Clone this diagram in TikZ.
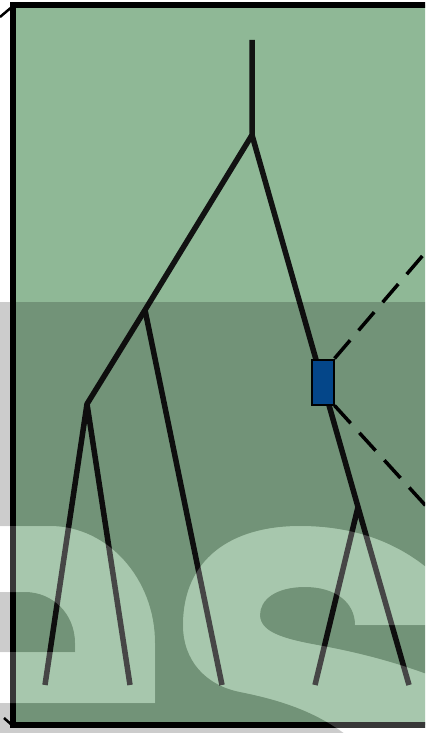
\documentclass[tikz,border=0pt]{standalone}
\usetikzlibrary{positioning}

\definecolor{panelgreen}{RGB}{143,184,150}
\definecolor{probeblue}{RGB}{5,88,172}

\begin{document}
\begin{tikzpicture}[x=0.2mm, y=-0.2mm,
    branch/.style={line width=1.1mm, line join=round, color=black!93},
    zoomline/.style={line width=0.7mm, dash pattern=on 4.8mm off 2.6mm},
    probe/.style={draw, line width=0.4mm, fill=probeblue, minimum width=4.4mm, minimum height=9mm, inner sep=0pt},
    letter e/.style={insert path={
        (-20,526) -- (50,526) .. controls (108,526) and (155,579) .. (155,643) -- (155,703) -- (-20,703) -- cycle
        (-20,592) -- (25,592) .. controls (53,592) and (75,614) .. (75,643) -- (75,652) -- (-20,652) -- cycle}},
    letter s/.style={insert path={
        (183,625) .. controls (183,560) and (230,526) .. (300,526) .. controls (350,526) and (395,540) .. (432,572)
        -- (432,625) -- (355,625) .. controls (355,602) and (335,587) .. (305,587) .. controls (275,587) and (260,600) .. (260,615)
        .. controls (260,634) and (290,640) .. (323,646) .. controls (360,653) and (395,662) .. (432,676)
        -- (432,742) -- (355,742) .. controls (320,712) and (280,700) .. (240,692) .. controls (205,685) and (183,660) .. (183,625) -- cycle}}]

    \useasboundingbox (0,0) rectangle (425,733);
    \clip (0,0) rectangle (425,733);

    % Panel
    \fill[white] (0,0) rectangle (425,733);
    \draw[fill=panelgreen, line width=1.2mm] (13,5) rectangle (470,725);
    \draw[line width=0.5mm] (13,6) -- (0,17);
    \draw[line width=0.5mm] (13,726) -- (4,718);

    % Nodes
    \coordinate (top) at (252,40);
    \coordinate (A) at (252,135);
    \coordinate (B) at (145,310);
    \coordinate (C) at (87,404);
    \coordinate (D) at (358,507);
    \coordinate (l1) at (45,685);
    \coordinate (l2) at (130,685);
    \coordinate (l3) at (222,685);
    \coordinate (l4) at (315,685);
    \coordinate (l5) at (409,685);
    \coordinate (up) at (436,240);
    \coordinate (dn) at (436,517);

    % Branches
    \draw[branch] (top) -- (A) -- (B) -- (C) -- (l1);
    \draw[branch] (C) -- (l2);
    \draw[branch] (B) -- (l3);
    \draw[branch] (A) -- (D) -- (l4);
    \draw[branch] (D) -- (l5);

    \node[probe] (probe) at (322.5,382) {};
    \draw[zoomline] (probe.north east) -- (up);
    \draw[zoomline] (probe.south east) -- (dn);

    % Watermark
    \fill[black, fill opacity=0.2, even odd rule, letter e, letter s] (-10,302) rectangle (440,745);
    \fill[white, fill opacity=0.22, even odd rule, letter e, letter s];

\end{tikzpicture}
\end{document}
